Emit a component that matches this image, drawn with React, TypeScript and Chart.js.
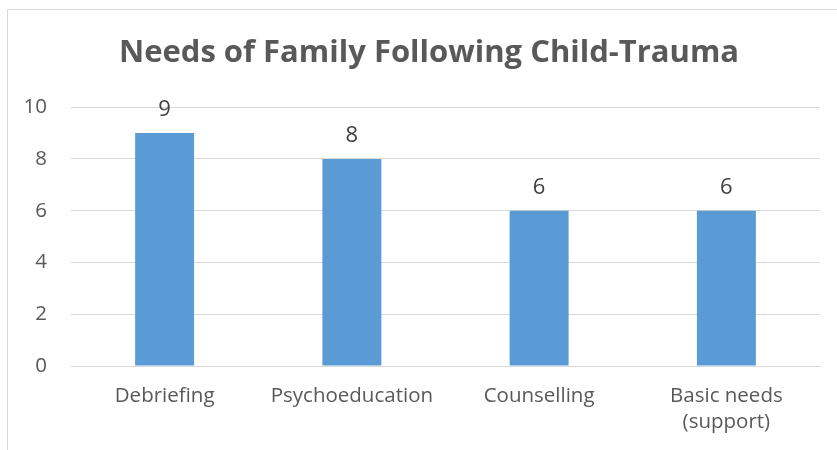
import React, { useEffect, useRef } from "react";
import { Chart, registerables } from "chart.js";

Chart.register(...registerables);

const TITLE = "Needs of Family Following Child-Trauma";
const categories: (string | string[])[] = ["Debriefing", "Psychoeducation", "Counselling", ["Basic needs", "(support)"]];
const values = [9, 8, 6, 6];
const yTicks = { min: 0, max: 10, step: 2 };

const FONT = "'Open Sans', 'Noto Sans', sans-serif";
const TEXT = "#595959";
const GRID = "#d9d9d9";
const BAR = "#5b9bd5";

const dataLabels = {
  id: "dataLabels",
  afterDatasetsDraw(chart: any) {
    const ctx = chart.ctx;
    ctx.save();
    ctx.font = `22px ${FONT}`;
    ctx.fillStyle = "#404040";
    ctx.textAlign = "center";
    ctx.textBaseline = "alphabetic";
    chart.data.datasets.forEach((ds: any, i: number) => {
      const meta = chart.getDatasetMeta(i);
      meta.data.forEach((el: any, j: number) => {
        ctx.fillText(String(ds.data[j]), el.x, el.y - 17);
      });
    });
    ctx.restore();
  },
};

export default function App() {
  const ref = useRef<HTMLCanvasElement>(null);
  useEffect(() => {
    document.body.style.margin = "0";
    document.body.style.overflow = "hidden";
    const chart = new Chart(ref.current!, {
      type: "bar",
      data: {
        labels: categories,
        datasets: [
          {
            data: values,
            backgroundColor: BAR,
            categoryPercentage: 0.63,
            barPercentage: 0.5,
          },
        ],
      },
      plugins: [dataLabels],
      options: {
        animation: false,
        responsive: false,
        maintainAspectRatio: false,
        layout: { padding: { left: 0, right: 1, top: 0, bottom: 0 } },
        plugins: {
          legend: { display: false },
          tooltip: { enabled: false },
          title: {
            display: true,
            text: TITLE,
            color: TEXT,
            font: { family: FONT, size: 31, weight: "bold", lineHeight: 1.2 },
            padding: { top: 25, bottom: 35 },
          },
        },
        scales: {
          x: {
            grid: { display: false, drawTicks: false },
            border: { display: true, color: GRID, width: 1 },
            ticks: {
              color: TEXT,
              font: { family: FONT, size: 20.5, lineHeight: 1.28 },
              padding: 17,
              maxRotation: 0,
              autoSkip: false,
            },
            afterFit(scale: any) {
              scale.height = 103;
            },
          },
          y: {
            min: yTicks.min,
            max: yTicks.max,
            grid: { color: GRID, lineWidth: 1, drawTicks: false },
            border: { display: false },
            ticks: {
              stepSize: yTicks.step,
              color: TEXT,
              font: { family: FONT, size: 20.5 },
              padding: 24,
            },
            afterFit(scale: any) {
              scale.width = 63;
            },
          },
          spacer: {
            type: "linear",
            position: "right",
            grid: { display: false, drawTicks: false },
            border: { display: false },
            ticks: { display: false },
            afterFit(scale: any) {
              scale.width = 30;
            },
          },
        },
      },
    });
    return () => chart.destroy();
  }, []);

  return (
    <div style={{ position: "fixed", left: 0, top: 0, width: 837, height: 450, overflow: "hidden", background: "#fff" }}>
      <div
        style={{
          position: "absolute",
          left: 7,
          top: 9,
          width: 844,
          height: 460,
          borderLeft: `1px solid ${GRID}`,
          borderTop: `1px solid ${GRID}`,
          boxSizing: "border-box",
        }}
      >
        <canvas ref={ref} width={843} height={459} style={{ display: "block" }} />
      </div>
    </div>
  );
}
